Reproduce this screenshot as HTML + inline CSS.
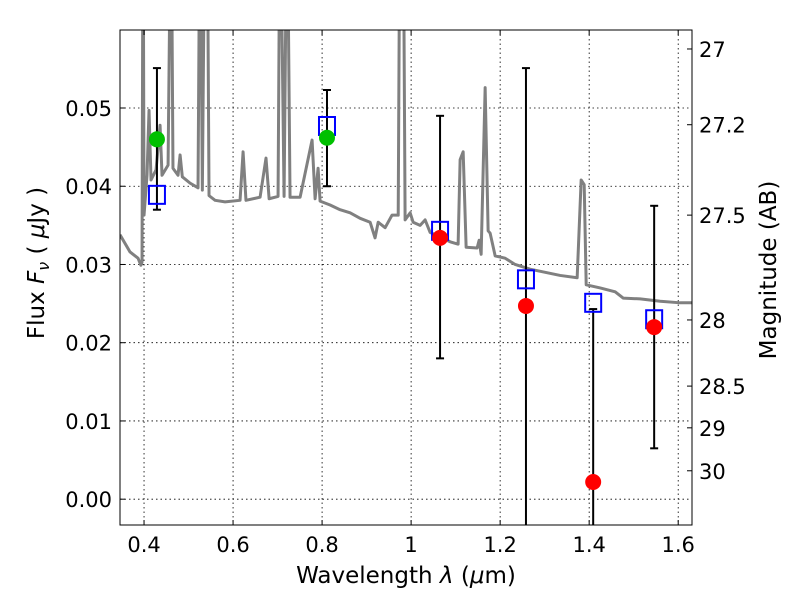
<!DOCTYPE html>
<html><head><meta charset="utf-8"><style>
html,body{margin:0;padding:0;background:#fff;overflow:hidden;width:800px;height:600px}
svg{display:block}
svg text{font-family:"DejaVu Sans","Liberation Sans",sans-serif;fill:#000}
</style></head><body>
<svg id="c" width="800" height="600" style="position:absolute;left:0;top:0"></svg>
<script>
const specWl=[0.346,0.3685,0.3865,0.393,0.3955,0.3978,0.400,0.4067,0.4112,0.4157,0.427,0.436,0.4404,0.454,0.4607,0.465,0.4764,0.481,0.486,0.5034,0.5213,0.5258,0.531,0.5371,0.5416,0.546,0.5596,0.582,0.6157,0.6225,0.629,0.6607,0.674,0.681,0.7011,0.7056,0.7146,0.7213,0.728,0.7506,0.7775,0.7843,0.791,0.7955,0.818,0.8404,0.863,0.8854,0.9079,0.919,0.926,0.9416,0.957,0.971,0.975,0.982,0.9865,0.9978,1.0045,1.0202,1.0315,1.0427,1.0652,1.0876,1.1056,1.1101,1.1169,1.1236,1.1483,1.1528,1.1573,1.1663,1.173,1.1775,1.1888,1.2112,1.2337,1.2674,1.3011,1.3348,1.373,1.382,1.3888,1.3933,1.4247,1.4584,1.4764,1.5146,1.5596,1.6045,1.631];
const specFlux=[0.0338,0.0316,0.0308,0.0299,0.0303,0.08,0.0363,0.0414,0.0497,0.0408,0.0421,0.0478,0.0414,0.0427,0.08,0.0423,0.0414,0.044,0.0412,0.0404,0.0398,0.08,0.0395,0.08,0.08,0.0388,0.0382,0.038,0.0382,0.0444,0.0382,0.0386,0.0436,0.0384,0.0387,0.08,0.0387,0.08,0.0386,0.0386,0.0459,0.0384,0.0423,0.0381,0.0376,0.037,0.0366,0.0359,0.0354,0.0334,0.0354,0.0347,0.0363,0.0363,0.08,0.08,0.0357,0.0366,0.0354,0.035,0.0357,0.0341,0.0335,0.0329,0.0326,0.0434,0.0444,0.0322,0.0321,0.0331,0.0313,0.0526,0.0343,0.034,0.0311,0.0308,0.03,0.0294,0.029,0.0286,0.0283,0.0408,0.0402,0.0274,0.027,0.0265,0.0257,0.0256,0.0253,0.0251,0.0251];
const modelWl=[0.429,0.811,1.065,1.258,1.409,1.546];
const modelFlux=[0.0389,0.0477,0.0343,0.0281,0.0251,0.023];
const greenWl=[0.429,0.811];
const greenFlux=[0.0460,0.0462];
const greenLo=[0.0370,0.0400];
const greenHi=[0.0551,0.0523];
const redWl=[1.065,1.258,1.409,1.546];
const redFlux=[0.0334,0.0247,0.0022,0.0220];
const redLo=[0.0180,-0.0057,-0.0199,0.0065];
const redHi=[0.0490,0.0551,0.0243,0.0375];
const xTicks=[0.4,0.6,0.8,1.0,1.2,1.4,1.6];
const xTickLabels=["0.4","0.6","0.8","1","1.2","1.4","1.6"];
const yTicks=[0,0.01,0.02,0.03,0.04,0.05];
const yTickLabels=["0.00","0.01","0.02","0.03","0.04","0.05"];
const magTicks=[27,27.2,27.5,28,28.5,29,30];
const magTickLabels=["27","27.2","27.5","28","28.5","29","30"];

const L=120,R=692,T=30,B=525,x0=0.346,x1=1.631,y0=-0.0033,y1=0.05997;
const X=v=>L+(v-x0)/(x1-x0)*(R-L);
const Y=v=>B-(v-y0)/(y1-y0)*(B-T);
const NS="http://www.w3.org/2000/svg";
const svg=document.getElementById('c');
function mk(tag,attrs,parent){const e=document.createElementNS(NS,tag);for(const k in attrs)e.setAttribute(k,attrs[k]);(parent||svg).appendChild(e);return e;}
const defs=mk('defs',{});const cp=mk('clipPath',{id:'clip'},defs);mk('rect',{x:L,y:T,width:R-L,height:B-T},cp);
const plot=mk('g',{'clip-path':'url(#clip)'});


xTicks.forEach((t,i)=>{const g=mk('line',{x1:X(t),x2:X(t),y1:T,y2:B,stroke:'#000','stroke-width':0.8,'stroke-dasharray':'1.5,3'},plot);

});
yTicks.forEach((t,i)=>{const g=mk('line',{x1:L,x2:R,y1:Y(t),y2:Y(t),stroke:'#000','stroke-width':0.8,'stroke-dasharray':'1.5,3'},plot);

});
const sp=mk('polyline',{points:specWl.map((w,i)=>X(w)+','+Y(specFlux[i])).join(' '),fill:'none',stroke:'#808080','stroke-width':3,'stroke-linejoin':'round'},plot);


function err(w,lo,hi){const g=mk('g',{},plot);
mk('line',{x1:X(w),x2:X(w),y1:Y(lo),y2:Y(hi),stroke:'#000','stroke-width':2},g);
mk('line',{x1:X(w)-4,x2:X(w)+4,y1:Y(lo),y2:Y(lo),stroke:'#000','stroke-width':2},g);
mk('line',{x1:X(w)-4,x2:X(w)+4,y1:Y(hi),y2:Y(hi),stroke:'#000','stroke-width':2},g);

}
greenWl.forEach((w,i)=>err(w,greenLo[i],greenHi[i]));
redWl.forEach((w,i)=>err(w,redLo[i],redHi[i]));
modelWl.forEach((w,i)=>{const r=mk('rect',{x:X(w)-8,y:Y(modelFlux[i])-9,width:16,height:18,fill:'none',stroke:'#0000ff','stroke-width':2},plot);

});
greenWl.forEach((w,i)=>{const c=mk('circle',{cx:X(w),cy:Y(greenFlux[i]),r:8,fill:'#00c000'},plot);

});
redWl.forEach((w,i)=>{const c=mk('circle',{cx:X(w),cy:Y(redFlux[i]),r:8,fill:'#ff0000'},plot);

});
const fr=mk('rect',{x:L,y:T,width:R-L,height:B-T,fill:'none',stroke:'#000','stroke-width':1});


xTicks.forEach((t,i)=>{mk('line',{x1:X(t),x2:X(t),y1:B,y2:B-5,stroke:'#000'});mk('line',{x1:X(t),x2:X(t),y1:T,y2:T+5,stroke:'#000'});
const tx=mk('text',{x:X(t),y:B+27,'text-anchor':'middle','font-size':21});tx.textContent=xTickLabels[i];

});
yTicks.forEach((t,i)=>{mk('line',{x1:L,x2:L+5,y1:Y(t),y2:Y(t),stroke:'#000'});
const tx=mk('text',{x:L-8,y:Y(t)+8,'text-anchor':'end','font-size':21});tx.textContent=yTickLabels[i];

});
magTicks.forEach((m,i)=>{const f=Math.pow(10,(23.9-m)/2.5);const y=Y(f);
mk('line',{x1:R,x2:R-5,y1:y,y2:y,stroke:'#000'});
const tx=mk('text',{x:R+7,y:y+8,'font-size':21});tx.textContent=magTickLabels[i];

});
</script>
<svg width="800" height="600" style="position:absolute;left:0;top:0;pointer-events:none">
<text x="406" y="583" text-anchor="middle" font-size="23">Wavelength  <tspan font-style="italic">λ</tspan> (<tspan font-style="italic">μ</tspan>m)</text>
<text transform="translate(44,263) rotate(-90)" text-anchor="middle" font-size="23">Flux  <tspan font-style="italic">F</tspan><tspan font-style="italic" font-size="16" dy="5">ν</tspan><tspan dy="-5">  (  </tspan><tspan font-style="italic">μ</tspan>Jy )</text>
<text transform="translate(776,270) rotate(-90)" text-anchor="middle" font-size="23">Magnitude (AB)</text>
</svg>
</body></html>
